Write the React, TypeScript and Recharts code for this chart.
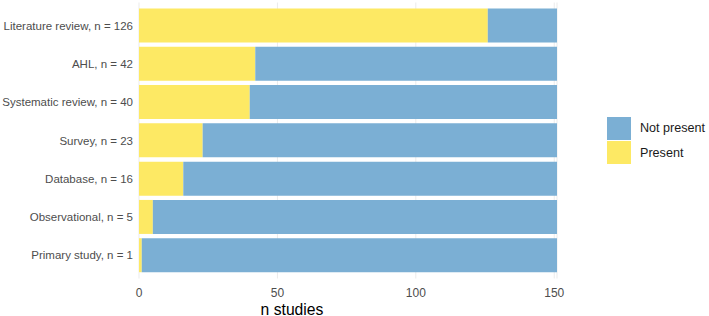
import { BarChart, Bar, XAxis, YAxis, CartesianGrid } from 'recharts';

const studyTypes = [
  'Literature review, n = 126',
  'AHL, n = 42',
  'Systematic review, n = 40',
  'Survey, n = 23',
  'Database, n = 16',
  'Observational, n = 5',
  'Primary study, n = 1',
];
const present = [126, 42, 40, 23, 16, 5, 1];
const notPresent = [25, 109, 111, 128, 135, 146, 150];
const xTicks = [0, 50, 100, 150];

const data = studyTypes.map((type, i) => ({
  type,
  present: present[i],
  notPresent: notPresent[i],
}));

const BLUE = '#7bafd4';
const YELLOW = '#fde964';
const FONT = '"Liberation Sans", Arial, sans-serif';

const legendItems = [
  { label: 'Not present', color: BLUE },
  { label: 'Present', color: YELLOW },
];

// single-line category labels, right aligned against the panel
function CategoryTick(props: any) {
  const { x, y, payload } = props;
  return (
    <text x={x} y={y} dy="0.355em" textAnchor="end" fill="#4d4d4d" fontSize={11.5} fontFamily={FONT}>
      {payload.value}
    </text>
  );
}

function AxisTitle() {
  return (
    <text x={292} y={314.5} textAnchor="middle" fill="#000" fontSize={15.7} fontFamily={FONT}>
      n studies
    </text>
  );
}

export default function App() {
  return (
    <div style={{ position: 'fixed', left: 0, top: 0, width: 709, height: 316, background: '#fff', fontFamily: FONT }}>
      <BarChart
        width={709}
        height={316}
        data={data}
        layout="vertical"
        margin={{ top: 2.5, right: 152, bottom: 0, left: 0 }}
        barSize={34}
      >
        <CartesianGrid horizontal={false} stroke="#ebebeb" strokeWidth={1} />
        <XAxis
          type="number"
          domain={[0, 151]}
          ticks={xTicks}
          allowDataOverflow
          axisLine={false}
          tickLine={false}
          tickMargin={4}
          height={37.5}
          tick={{ fill: '#4d4d4d', fontSize: 12, fontFamily: FONT }}
          label={<AxisTitle />}
        />
        <YAxis
          type="category"
          dataKey="type"
          width={139}
          axisLine={false}
          tickLine={false}
          tickSize={0}
          tickMargin={6}
          padding={{ top: 4, bottom: 4 }}
          tick={<CategoryTick />}
        />
        <Bar dataKey="present" stackId="s" fill={YELLOW} isAnimationActive={false} />
        <Bar dataKey="notPresent" stackId="s" fill={BLUE} isAnimationActive={false} />
      </BarChart>
      <div style={{ position: 'absolute', left: 607, top: 116 }}>
        {legendItems.map((item) => (
          <div key={item.label} style={{ display: 'flex', alignItems: 'center', height: 24.5, whiteSpace: 'nowrap' }}>
            <div style={{ width: 24, height: 23, background: item.color }} />
            <span style={{ marginLeft: 9, fontSize: 12.6, color: '#1a1a1a' }}>{item.label}</span>
          </div>
        ))}
      </div>
    </div>
  );
}
